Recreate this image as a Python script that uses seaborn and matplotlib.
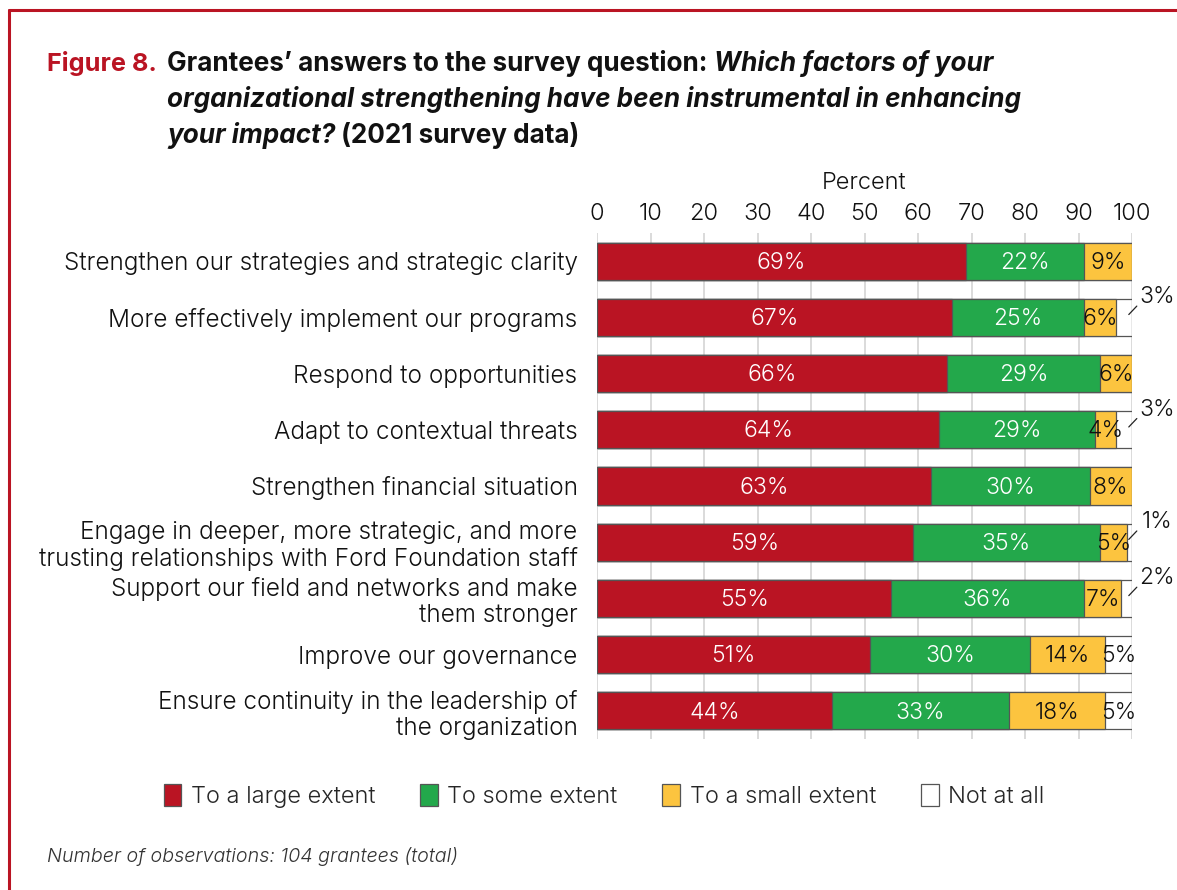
import numpy as np
import pandas as pd
import seaborn as sns
from matplotlib import pyplot as plt
from matplotlib.patches import Patch
from matplotlib.lines import Line2D

categories = [
    "Strengthen our strategies and strategic clarity",
    "More effectively implement our programs",
    "Respond to opportunities",
    "Adapt to contextual threats",
    "Strengthen financial situation",
    "Engage in deeper, more strategic, and more\ntrusting relationships with Ford Foundation staff",
    "Support our field and networks and make\nthem stronger",
    "Improve our governance",
    "Ensure continuity in the leadership of\nthe organization",
]
large = [69, 67, 66, 64, 63, 59, 55, 51, 44]
some = [22, 25, 29, 29, 30, 35, 36, 30, 33]
small = [9, 6, 6, 4, 8, 5, 7, 14, 18]
not_at_all = [0, 3, 0, 3, 0, 1, 2, 5, 5]
series_names = ["To a large extent", "To some extent", "To a small extent", "Not at all"]
colors = ["#BA1423", "#23A84B", "#FCC43F", "#FFFFFF"]
text_colors = ["white", "white", "#111111", "#111111"]

FONT = "Inter"
LIGHT = 300
sns.set_style("white")
plt.rcParams["font.family"] = [FONT, "DejaVu Sans"]

df = pd.DataFrame({"category": categories, series_names[0]: large,
                   series_names[1]: some, series_names[2]: small,
                   series_names[3]: not_at_all})
vals = df[series_names].to_numpy(dtype=float)
norm = vals / vals.sum(axis=1, keepdims=True) * 100
cum = np.cumsum(norm, axis=1)

W, H = 1177, 890
fig = plt.figure(figsize=(W / 100, H / 100), dpi=100)
ax = fig.add_axes([597 / W, 1 - 739 / H, 535 / W, 506 / H])

edge = "#555555"
for k in range(3, -1, -1):
    sns.barplot(x=cum[:, k], y=categories, orient="h", color=colors[k],
                saturation=1, width=0.66, edgecolor=edge, linewidth=0.9, ax=ax)

# segment labels
for i in range(len(categories)):
    for k in range(4):
        v = vals[i, k]
        if v == 0:
            continue
        left = cum[i, k] - norm[i, k]
        if k == 3 and v < 4:
            ax.plot([99.4, 100.9], [i - 0.05, i - 0.2],
                    color="#222222", lw=0.9, clip_on=False)
            ax.text(104.7, i - 0.36, f"{int(v)}%", ha="center", va="center",
                    fontsize=16.5, color="#111111", fontweight=LIGHT)
            continue
        ax.text(left + norm[i, k] / 2, i + 0.03, f"{int(v)}%", ha="center", va="center",
                fontsize=16.5, color=text_colors[k], fontweight=LIGHT)

ax.set_xlim(0, 100)
ax.set_ylim(8.5, -0.5)
ax.set_xticks(range(0, 101, 10))
ax.xaxis.tick_top()
ax.xaxis.set_label_position("top")
ax.set_xlabel("Percent", fontsize=17, fontweight=LIGHT, labelpad=10, color="#111111")
ax.set_ylabel("")
ax.tick_params(axis="x", length=0, pad=6, labelsize=17, labelcolor="#111111")
ax.tick_params(axis="y", length=0, pad=14, labelsize=17.5, labelcolor="#111111")
for lab in ax.get_xticklabels() + ax.get_yticklabels():
    lab.set_fontweight(LIGHT)
for lab in ax.get_yticklabels():
    lab.set_linespacing(1.15)
ax.grid(axis="x", color="#d8d8d8", lw=1.3)
ax.set_axisbelow(True)
for s in ax.spines.values():
    s.set_visible(False)

# title with mixed styles
renderer = fig.canvas.get_renderer()


def rich_line(x_px, y_px, pieces, size=18.8):
    x = x_px
    for txt, style, color in pieces:
        t = fig.text(x / W, 1 - y_px / H, txt, fontsize=size, fontweight="bold",
                     fontstyle=style, color=color, va="baseline", ha="left")
        bb = t.get_window_extent(renderer)
        x = bb.x1


rich_line(47, 71, [("Figure 8.", "normal", "#BA1423")], size=18.2)
rich_line(167, 71, [("Grantees\u2019 answers to the survey question: ", "normal", "#111111"),
                    ("Which factors of your", "italic", "#111111")])
rich_line(167, 107, [("organizational strengthening have been instrumental in enhancing",
                      "italic", "#111111")])
rich_line(167, 143, [("your impact?", "italic", "#111111"),
                     (" (2021 survey data)", "normal", "#111111")])

handles = [Patch(facecolor=c, edgecolor=edge, linewidth=0.9) for c in colors]
fig.legend(handles, series_names, loc="center", bbox_to_anchor=(604 / W, 1 - 796 / H),
           ncol=4, frameon=False, handlelength=0.75, handleheight=1.05,
           handletextpad=0.4, columnspacing=1.9, prop={"size": 17, "weight": LIGHT})

fig.text(47 / W, 1 - 856 / H, "Number of observations: 104 grantees (total)",
         fontsize=14.2, fontstyle="italic", fontweight=LIGHT, color="#333333",
         va="center", ha="left")

# frame
fig.add_artist(Line2D([9 / W, 9 / W], [0, 1 - 10 / H], color="#BA1423", lw=2.2))
fig.add_artist(Line2D([9 / W, 1], [1 - 10 / H, 1 - 10 / H], color="#BA1423", lw=2.2))

fig.savefig("out.png", dpi=100)
